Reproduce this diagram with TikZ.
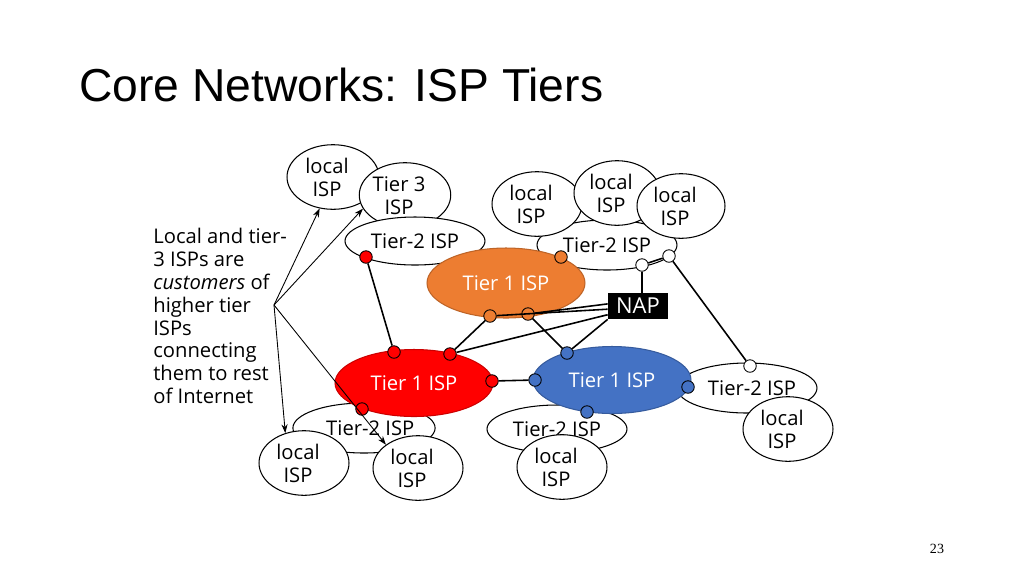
\documentclass[tikz,border=0pt]{standalone}
\usepackage{fontspec}
\setmainfont{Open Sans}
\newfontfamily\titlefont{Liberation Sans}
\newfontfamily\numfont{Liberation Serif}
\usetikzlibrary{shapes.geometric, arrows.meta, positioning}
\definecolor{ispred}{HTML}{FF0000}
\definecolor{isporange}{HTML}{ED7D31}
\definecolor{ispblue}{HTML}{4472C4}
% two-line label, set a little left of the ellipse centre
\newcommand{\twoline}[2]{\raisebox{-0.07cm}[\height][\depth]{\begin{tabular}{@{}c@{}}#1\\#2\end{tabular}}\hspace*{0.24cm}}
\tikzset{
  isp/.style={
    ellipse, draw=black, fill=white, line width=0.6pt, inner sep=0pt,
    align=center, font=\fontsize{11.5}{13}\selectfont
  },
  tierone/.style={
    ellipse, draw=#1!80!black, fill=#1, line width=0.6pt, inner sep=0pt,
    minimum width=3.16cm, minimum height=1.34cm,
    text=white, font=\fontsize{11.5}{13}\selectfont
  },
  router/.style={
    circle, draw=black, fill=#1, line width=0.5pt,
    minimum size=0.25cm, inner sep=0pt
  },
  link/.style={line width=0.9pt},
  callout/.style={-{Stealth[length=5pt,width=3.5pt]}, line width=0.5pt}
}

\begin{document}
\begin{tikzpicture}[x=0.02cm, y=-0.02cm]
\useasboundingbox (0,0) rectangle (1024,576);

\node[anchor=west, inner sep=0pt, font=\titlefont\fontsize{26.3}{30}\selectfont] (title) at (79,85) {Core Networks: ISP Tiers};
\node[font=\numfont\fontsize{8}{9}\selectfont] (pnum) at (937,549) {23};

% upper left group
\node[isp, minimum width=1.84cm, minimum height=1.2cm] (ltl) at (333,177) {\twoline{local}{ISP}};
\node[isp, minimum width=1.8cm, minimum height=1.08cm] (tthree) at (405,195) {\twoline{Tier 3}{ISP}};
\node[isp, minimum width=2.8cm, minimum height=0.96cm] (tta) at (415,241) {Tier-2 ISP};

% upper right group
\node[isp, minimum width=2.8cm, minimum height=1cm] (ttb) at (607,245) {Tier-2 ISP};
\node[isp, minimum width=1.8cm, minimum height=1.04cm] (lta) at (537,204) {\twoline{local}{ISP}};
\node[isp, minimum width=1.72cm, minimum height=1.12cm] (ltb) at (617,193) {\twoline{local}{ISP}};
\node[isp, minimum width=1.76cm, minimum height=1.16cm] (ltc) at (681,206) {\twoline{local}{ISP}};

\node[tierone=isporange, minimum height=1.4cm] (orange) at (506,283) {Tier 1 ISP};

% lower left group
\node[isp, minimum width=2.84cm, minimum height=1cm] (ttc) at (364,428) {\hspace*{0.25cm}Tier-2 ISP};
\node[isp, minimum width=1.8cm, minimum height=1.16cm] (lbl) at (304,463) {\twoline{local}{ISP}};
\node[isp, minimum width=1.8cm, minimum height=1.16cm] (lbm) at (418,468) {\twoline{local}{ISP}};
\node[tierone=ispred] (red) at (414,383) {Tier 1 ISP};

% lower right group
\node[isp, minimum width=2.8cm, minimum height=0.96cm] (ttd) at (557,429) {Tier-2 ISP};
\node[isp, minimum width=1.8cm, minimum height=1.2cm] (lbr) at (562,467) {\twoline{local}{ISP}};
\node[isp, minimum width=2.8cm, minimum height=1cm] (tte) at (747,388) {\hspace*{0.2cm}Tier-2 ISP};
\node[isp, minimum width=1.8cm, minimum height=1.16cm] (lr) at (788,429) {\twoline{local}{ISP}};
\node[tierone=ispblue] (blue) at (612,380) {Tier 1 ISP};

\node[fill=black, text=white, minimum width=1.2cm, minimum height=0.52cm, inner sep=0pt,
  font=\fontsize{12.5}{14}\selectfont] (nap) at (638,306) {NAP};

% routers
\node[router=ispred] (ra) at (366,257) {};
\node[router=ispred] (rb) at (394,352) {};
\node[router=ispred] (rc) at (450,354) {};
\node[router=ispred] (rd) at (492,381) {};
\node[router=ispred] (re) at (362,409) {};
\node[router=isporange] (oa) at (561,257) {};
\node[router=isporange] (ob) at (490,316) {};
\node[router=isporange] (oc) at (528,314) {};
\node[router=white] (wa) at (642,265) {};
\node[router=white] (wb) at (669,256) {};
\node[router=white] (wc) at (750,366) {};
\node[router=ispblue] (ba) at (567,353) {};
\node[router=ispblue] (bb) at (535,380) {};
\node[router=ispblue] (bc) at (688,387) {};
\node[router=ispblue] (bd) at (587,412) {};

% links
\draw[link] (ra) -- (rb);
\draw[link] (ob) -- (rc);
\draw[link] (ob) -- (nap.186);
\draw[link] (oc) -- (nap.176);
\draw[link] (rc) -- (nap.196);
\draw[link] (oc) -- (ba);
\draw[link] (ba) -- (nap.south west);
\draw[link] (rd) -- (bb);
\draw[link] (wa) -- (wa |- nap.north);
\draw[link] (wa) -- (wb);
\draw[link] (wb) -- (wc);

% customers note
\node[anchor=north west, inner sep=0pt, align=left, font=\fontsize{11.5}{13}\selectfont] (note) at (153,228)
  {Local and tier-\\3 ISPs are\\\emph{customers} of\\higher tier\\ISPs\\connecting\\them to rest\\of Internet};
\coordinate (apex) at (274,305);
\draw[callout] (apex) -- (ltl.247);
\draw[callout] (apex) -- (tthree.198);
\draw[callout] (apex) -- (lbl.122);
\draw[callout] (apex) -- (lbm.144);
\end{tikzpicture}
\end{document}
